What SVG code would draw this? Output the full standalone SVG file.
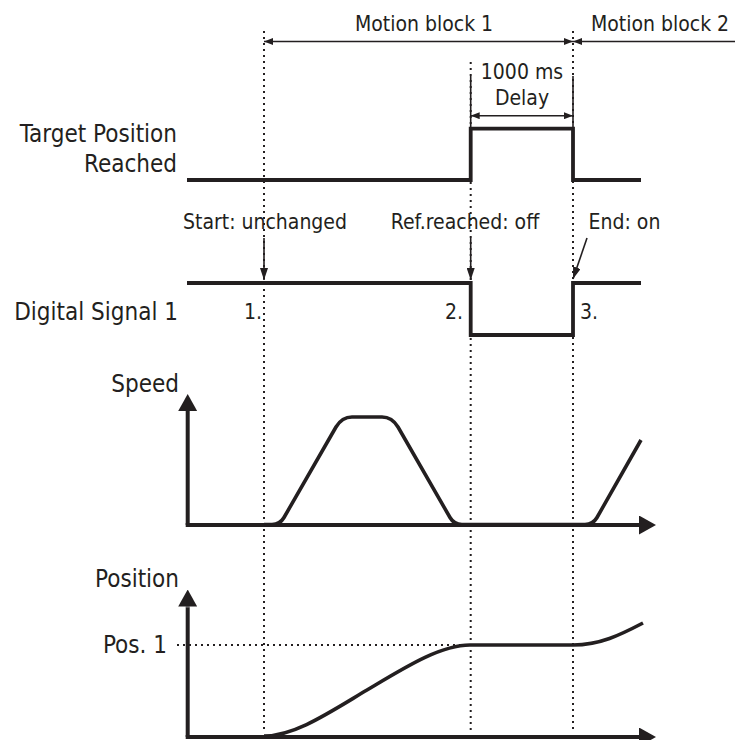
<svg xmlns="http://www.w3.org/2000/svg" width="735" height="740" viewBox="0 0 735 740">
  <style>
    text { font-family: "DejaVu Sans Condensed", "DejaVu Sans", sans-serif; font-stretch: condensed; fill: #231f20; }
    .lbl { font-size: 24px; text-anchor: end; }
    .ann { font-size: 21px; text-anchor: middle; }
    .num { font-size: 21px; }
    .dot { stroke: #231f20; stroke-width: 2; stroke-dasharray: 2 4; fill: none; }
    .sig { stroke: #231f20; stroke-width: 3.8; fill: none; stroke-linejoin: miter; }
    .axis { stroke: #231f20; stroke-width: 4; fill: none; }
    .thin { stroke: #231f20; stroke-width: 1.6; fill: none; }
    .curve { stroke: #231f20; stroke-width: 3.6; fill: none; stroke-linecap: butt; }
  </style>
  <defs>
    <marker id="sm" viewBox="0 0 9 7" refX="9" refY="3.5" markerWidth="9" markerHeight="7" markerUnits="userSpaceOnUse" orient="auto-start-reverse">
      <path d="M0,0 L9,3.5 L0,7 z" fill="#231f20"/>
    </marker>
    <marker id="ar" viewBox="0 0 12 8" refX="12" refY="4" markerWidth="12" markerHeight="8" markerUnits="userSpaceOnUse" orient="auto">
      <path d="M0,0 L12,4 L0,8 z" fill="#231f20"/>
    </marker>
    <marker id="ax" viewBox="0 0 17 19" refX="0" refY="9.5" markerWidth="17" markerHeight="19" markerUnits="userSpaceOnUse" orient="auto">
      <path d="M0,0 L17,9.5 L0,19 z" fill="#231f20"/>
    </marker>
  </defs>

  <g id="guides">
    <line class="dot" x1="264" y1="31" x2="264" y2="733"/>
    <line class="dot" x1="470.7" y1="62" x2="470.7" y2="733"/>
    <line class="dot" x1="573" y1="31" x2="573" y2="733"/>
    <line class="dot" x1="177" y1="645" x2="468" y2="645"/>
  </g>

  <g id="motion-block-1">
    <text class="ann" x="424" y="31">Motion block 1</text>
  </g>
  <g id="motion-block-2">
    <text class="ann" x="660" y="31">Motion block 2</text>
  </g>

  <g id="delay">
    <text class="ann" x="522" y="79">1000 ms</text>
    <text class="ann" x="522" y="105">Delay</text>
  </g>

  <g id="target-position-reached">
    <text class="lbl" x="177" y="142">Target Position</text>
    <text class="lbl" x="177" y="172">Reached</text>
    <path class="sig" d="M187,180 H470.7 V128.7 H573 V180 H641"/>
  </g>

  <g id="digital-signal-1">
    <text class="lbl" x="178" y="320">Digital Signal 1</text>
    <path class="sig" d="M187,283 H470.7 V335 H573 V283 H641"/>
    <text class="ann" x="265" y="229">Start: unchanged</text>
    <text class="ann" x="465" y="229">Ref.reached: off</text>
    <text class="ann" x="624.5" y="229">End: on</text>
    <text class="num" x="244" y="319">1.</text>
    <text class="num" x="445" y="319">2.</text>
    <text class="num" x="580" y="319">3.</text>
  </g>

  <g id="speed">
    <text class="lbl" x="179" y="392">Speed</text>
    <line class="axis" x1="187.7" y1="525" x2="187.7" y2="412"/>
    <line class="axis" x1="185.7" y1="525" x2="638" y2="525"/>
    <path class="curve" d="M264,524.5 H272 Q280,524.5 284,517.5 L336,427 Q342,417 352,417 H382 Q392,417 398,427 L450,517.5 Q454,524.5 462,524.5 H585 Q593,524.5 597,517.5 L641,440"/>
  </g>

  <g id="position">
    <text class="lbl" x="179" y="587">Position</text>
    <text class="lbl" x="167" y="653">Pos. 1</text>
    <line class="axis" x1="187.7" y1="737" x2="187.7" y2="607.5"/>
    <line class="axis" x1="185.7" y1="737" x2="638" y2="737"/>
    <path class="curve" d="M264,736 C295,736 330,712 367,690 C404,668 440,645 470,645 H573 C600,645 620,635 643,623"/>
  </g>

  <g id="connectors">
    <line class="thin" x1="264" y1="41.5" x2="573" y2="41.5" marker-start="url(#sm)" marker-end="url(#sm)"/>
    <line class="thin" x1="735" y1="41.5" x2="573" y2="41.5" marker-end="url(#sm)"/>
    <line class="thin" x1="470.7" y1="76" x2="470.7" y2="128"/>
    <line class="thin" x1="573" y1="76" x2="573" y2="128"/>
    <line class="thin" x1="470.7" y1="115.7" x2="573" y2="115.7" marker-start="url(#sm)" marker-end="url(#sm)"/>
    <line class="thin" x1="264" y1="238" x2="264" y2="280" marker-end="url(#ar)"/>
    <line class="thin" x1="470.7" y1="238" x2="470.7" y2="280" marker-end="url(#ar)"/>
    <line class="thin" x1="587" y1="238" x2="573" y2="279" marker-end="url(#ar)"/>
    <line class="axis" x1="187.7" y1="412" x2="187.7" y2="411" marker-end="url(#ax)"/>
    <line class="axis" x1="638" y1="525" x2="639" y2="525" marker-end="url(#ax)"/>
    <line class="axis" x1="187.7" y1="607.5" x2="187.7" y2="606.5" marker-end="url(#ax)"/>
    <line class="axis" x1="638" y1="737" x2="639" y2="737" marker-end="url(#ax)"/>
  </g>
</svg>
